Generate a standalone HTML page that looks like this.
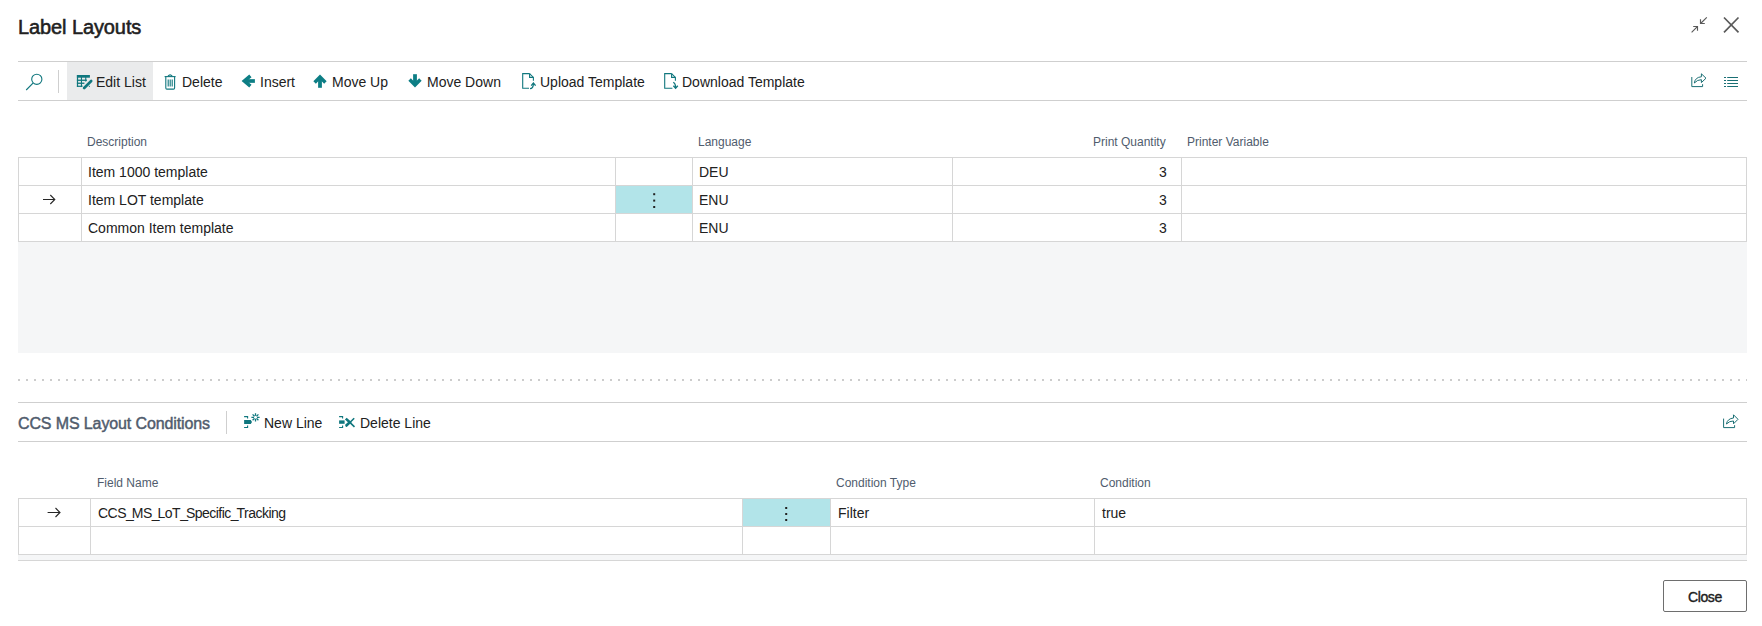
<!DOCTYPE html>
<html>
<head>
<meta charset="utf-8">
<style>
html,body{margin:0;padding:0;width:1762px;height:626px;overflow:hidden;background:#fff;}
body{font-family:"Liberation Sans",sans-serif;color:#212121;position:relative;}
.a{position:absolute;white-space:nowrap;line-height:normal;}
.hl{position:absolute;height:1px;background:#d0d0d0;}
.vl{position:absolute;width:1px;background:#d6d6d6;}
.t14{font-size:14px;}
.t12{font-size:12px;color:#505c6d;}
svg{position:absolute;overflow:visible;}
</style>
</head>
<body>

<!-- Title -->
<div class="a" style="left:18px;top:16px;font-size:20px;letter-spacing:-0.1px;-webkit-text-stroke:0.55px #212121;color:#212121">Label Layouts</div>

<!-- collapse icon -->
<svg style="left:0;top:0" width="1762" height="60" fill="none" stroke="#5a5a5a">
  <g stroke-width="1.15">
    <path d="M1691.6 32.4 L1697.6 26.4 M1693.2 26.5 H1697.5 V30.8"/>
    <path d="M1706.8 17.3 L1700.6 23.5 M1700.5 19.2 V23.5 H1704.8"/>
  </g>
  <path d="M1724 17.5 L1738.5 32.3 M1738.5 17.5 L1724 32.3" stroke-width="1.7"/>
</svg>

<!-- Toolbar -->
<div class="hl" style="left:18px;top:61px;width:1729px;background:#cfcfcf"></div>
<div class="hl" style="left:18px;top:100px;width:1729px;background:#cfcfcf"></div>
<div class="vl" style="left:58px;top:70px;height:23px;background:#cfcfcf"></div>
<div style="position:absolute;left:67px;top:62px;width:86px;height:38px;background:#eaebec"></div>

<div class="a t14" style="left:96px;top:74px">Edit List</div>
<div class="a t14" style="left:182px;top:74px">Delete</div>
<div class="a t14" style="left:260px;top:74px">Insert</div>
<div class="a t14" style="left:332px;top:74px">Move Up</div>
<div class="a t14" style="left:427px;top:74px">Move Down</div>
<div class="a t14" style="left:540px;top:74px">Upload Template</div>
<div class="a t14" style="left:682px;top:74px">Download Template</div>

<!-- Table 1 -->
<div class="a t12" style="left:87px;top:135px">Description</div>
<div class="a t12" style="left:698px;top:135px">Language</div>
<div class="a t12" style="left:1093px;top:135px">Print Quantity</div>
<div class="a t12" style="left:1187px;top:135px">Printer Variable</div>

<div style="position:absolute;left:18px;top:157px;width:1727px;height:83px;border:1px solid #d6d6d6;"></div>
<div class="hl" style="left:18px;top:185px;width:1729px;background:#d6d6d6"></div>
<div class="hl" style="left:18px;top:213px;width:1729px;background:#d6d6d6"></div>
<div class="vl" style="left:81px;top:157px;height:84px"></div>
<div class="vl" style="left:615px;top:157px;height:84px"></div>
<div class="vl" style="left:692px;top:157px;height:84px"></div>
<div class="vl" style="left:952px;top:157px;height:84px"></div>
<div class="vl" style="left:1181px;top:157px;height:84px"></div>
<div style="position:absolute;left:616px;top:186px;width:76px;height:27px;background:#b2e4e9"></div>
<div style="position:absolute;left:18px;top:242px;width:1729px;height:111px;background:#f5f6f7"></div>

<div class="a t14" style="left:88px;top:164px">Item 1000 template</div>
<div class="a t14" style="left:88px;top:192px">Item LOT template</div>
<div class="a t14" style="left:88px;top:220px">Common Item template</div>
<div class="a t14" style="left:699px;top:164px">DEU</div>
<div class="a t14" style="left:699px;top:192px">ENU</div>
<div class="a t14" style="left:699px;top:220px">ENU</div>
<div class="a t14" style="left:1159px;top:164px">3</div>
<div class="a t14" style="left:1159px;top:192px">3</div>
<div class="a t14" style="left:1159px;top:220px">3</div>

<!-- dotted line -->
<div style="position:absolute;left:18px;top:379px;width:1729px;height:2px;background-image:linear-gradient(to right,#cccccc 0,#cccccc 2px,transparent 2px);background-size:8px 2px;"></div>

<!-- Section 2 -->
<div class="hl" style="left:18px;top:402px;width:1729px;background:#cfcfcf"></div>
<div class="hl" style="left:18px;top:441px;width:1729px;background:#cfcfcf"></div>
<div class="a" style="left:18px;top:415px;font-size:16px;letter-spacing:-0.12px;-webkit-text-stroke:0.45px #505c6d;color:#505c6d">CCS MS Layout Conditions</div>
<div class="vl" style="left:226px;top:411px;height:23px;background:#cfcfcf"></div>
<div class="a t14" style="left:264px;top:415px">New Line</div>
<div class="a t14" style="left:360px;top:415px">Delete Line</div>

<!-- Table 2 -->
<div class="a t12" style="left:97px;top:476px">Field Name</div>
<div class="a t12" style="left:836px;top:476px">Condition Type</div>
<div class="a t12" style="left:1100px;top:476px">Condition</div>

<div style="position:absolute;left:18px;top:498px;width:1727px;height:55px;border:1px solid #d6d6d6;"></div>
<div class="hl" style="left:18px;top:526px;width:1729px;background:#d6d6d6"></div>
<div class="vl" style="left:90px;top:498px;height:56px"></div>
<div class="vl" style="left:742px;top:498px;height:56px"></div>
<div class="vl" style="left:830px;top:498px;height:56px"></div>
<div class="vl" style="left:1094px;top:498px;height:56px"></div>
<div style="position:absolute;left:743px;top:499px;width:87px;height:27px;background:#b2e4e9"></div>
<div style="position:absolute;left:18px;top:555px;width:1729px;height:5px;background:#f5f6f7"></div>
<div class="hl" style="left:18px;top:560px;width:1729px;background:#d6d6d6"></div>

<div class="a t14" style="left:98px;top:505px;letter-spacing:-0.52px">CCS<span style="letter-spacing:-2px">_</span>MS<span style="letter-spacing:-2px">_</span>LoT<span style="letter-spacing:-2px">_</span>Specific<span style="letter-spacing:-2px">_</span>Tracking</div>
<div class="a t14" style="left:838px;top:505px">Filter</div>
<div class="a t14" style="left:1102px;top:505px">true</div>

<!-- Close button -->
<div style="position:absolute;left:1663px;top:580px;width:82px;height:30px;border:1px solid #6e6e6e;border-radius:2px;"></div>
<div class="a" style="left:1688px;top:589px;font-size:14px;letter-spacing:-0.4px;-webkit-text-stroke:0.4px #212121">Close</div>


<!-- ICONS -->
<svg style="left:0;top:0" width="1762" height="626" fill="none">
 <g stroke="#10777e" fill="none">
  <!-- search -->
  <circle cx="36.8" cy="79.3" r="5.1" stroke-width="1.1"/>
  <path d="M33 83.2 L26.2 90" stroke-width="1.15"/>
 </g>
 <!-- edit list grid -->
 <g fill="#10777e">
  <rect x="76.9" y="75" width="13" height="2.7"/>
  <rect x="76.9" y="75" width="1.2" height="11.9"/>
  <rect x="76.9" y="79.6" width="10" height="1.3"/>
  <rect x="76.9" y="82.6" width="7.5" height="1.3"/>
  <rect x="76.9" y="85.7" width="6" height="1.2"/>
  <rect x="80.9" y="75" width="1.1" height="11.9"/>
  <rect x="85.2" y="75" width="1.1" height="6.5"/>
  <rect x="88.2" y="85.2" width="1.7" height="1.7"/>
 </g>
 <path d="M91.6 80.6 L83.6 88.6" stroke="#eaebec" stroke-width="4.4" stroke-linecap="round"/>
 <path d="M91.2 81 L84.2 88" stroke="#10777e" stroke-width="2.6" stroke-linecap="round"/>
 <path d="M84.4 86.2 L82.6 88.6 L85.6 87.2 Z" fill="#10777e"/>
 <!-- trash -->
 <g stroke="#10777e" stroke-width="1.1" fill="none">
  <path d="M164.6 76.6 H175.6"/>
  <path d="M168 76.2 Q170.1 73.6 172.2 76.2"/>
  <path d="M165.8 76.8 V88 Q165.8 89.1 166.9 89.1 H173.5 Q174.6 89.1 174.6 88 V76.8"/>
  <path d="M168.2 79.6 V86.4 M170.2 79.6 V86.4 M172.2 79.6 V86.4"/>
 </g>
 <!-- insert arrow (left) -->
 <g stroke="#0d7e85" fill="none" stroke-width="3.5" stroke-linejoin="miter" stroke-miterlimit="2">
  <path d="M250.4 75.8 L244.3 81 L250.4 86.2"/>
  <path d="M245.5 81 H254.9" stroke-width="3.7"/>
 </g>
 <!-- move up -->
 <g stroke="#0d7e85" fill="none" stroke-width="3.5" stroke-linejoin="miter" stroke-miterlimit="2">
  <path d="M314.6 82.6 L320 77.1 L325.4 82.6"/>
  <path d="M320 77.6 V87.8" stroke-width="3.8"/>
 </g>
 <!-- move down -->
 <g stroke="#0d7e85" fill="none" stroke-width="3.5" stroke-linejoin="miter" stroke-miterlimit="2">
  <path d="M409.6 79.4 L415 84.9 L420.4 79.4"/>
  <path d="M415 84.4 V74.2" stroke-width="3.8"/>
 </g>
 <!-- upload template -->
 <g stroke="#10777e" stroke-width="1.1" fill="none">
  <path d="M529.6 73.6 H522.7 V88.3 H529"/>
  <path d="M529.6 73.6 L533.4 77.4 V80.8"/>
  <path d="M529.6 73.6 V77.4 H533.4"/>
  <path d="M530 88.6 Q533.4 88.4 533.4 83.4" stroke-width="1.3"/>
  <path d="M531.2 85.6 L533.4 83 L535.6 85.6" stroke-width="1.3"/>
 </g>
 <!-- download template -->
 <g stroke="#10777e" stroke-width="1.1" fill="none">
  <path d="M671.6 73.6 H664.7 V88.3 H672.4"/>
  <path d="M671.6 73.6 L675.4 77.4 V80.8"/>
  <path d="M671.6 73.6 V77.4 H675.4"/>
  <path d="M673.2 82.4 Q675.6 83 675.6 88" stroke-width="1.3"/>
  <path d="M673.4 85.8 L675.6 88.3 L677.8 85.8" stroke-width="1.3"/>
 </g>
 <!-- share (toolbar) -->
 <g stroke="#1a6f74" stroke-width="1.0" fill="none">
  <path d="M1691.8 77 V86.6 H1702.6 V84.2"/>
  <path d="M1694.3 83 Q1695.2 77.2 1701.4 76.8 V73.8 L1706 78.2 L1701.4 82.6 V79.7 Q1697.4 79.6 1694.3 83 Z" stroke-linejoin="round"/>
 </g>
 <!-- list icon -->
 <g stroke="#1a6f74" stroke-width="1.1">
  <path d="M1724 77.5 H1726 M1727.2 77.5 H1738 M1724 80.5 H1726 M1727.2 80.5 H1738 M1724 83.5 H1726 M1727.2 83.5 H1738 M1724 86.5 H1726 M1727.2 86.5 H1738"/>
 </g>
 <!-- share (section 2) -->
 <g stroke="#1a6f74" stroke-width="1.0" fill="none">
  <path d="M1723.6 418.6 V427.6 H1734.6 V425.2"/>
  <path d="M1726.4 424 Q1727.4 418.6 1733.5 418 V414.8 L1738 419.3 L1733.5 423.8 V421 Q1729.6 420.8 1726.4 424 Z" stroke-linejoin="round"/>
 </g>
 <!-- new line -->
 <g fill="none" stroke="#10777e" stroke-width="1.1">
  <path d="M244.1 416.6 H247.6 V418.6 M244.1 427.5 H247.6 V425.4"/>
 </g>
 <path d="M244.1 420 H250.8 L252 421.9 L250.8 423.9 H244.1 Z" fill="#10777e"/>
 <g stroke="#10777e" stroke-width="1.3">
  <path d="M255.5 413.2 V421.4 M251.4 417.3 H259.6 M252.6 414.4 L258.4 420.2 M258.4 414.4 L252.6 420.2"/>
 </g>
 <circle cx="255.5" cy="417.3" r="1.5" fill="#fff"/>
 <!-- delete line -->
 <g fill="none" stroke="#10777e" stroke-width="1.1">
  <path d="M339.1 416.6 H342.6 V418.6 M339.1 427.5 H342.6 V425.4"/>
 </g>
 <path d="M339.1 420.4 H344.6 V423.8 H339.1 Z" fill="#10777e"/>
 <path d="M345.8 418.6 L349.8 422.3 L345.8 426" stroke="#10777e" stroke-width="2.6" fill="none"/>
 <path d="M354.2 418.2 L345.8 426.5 M349.8 422.3 L354.5 426.8" stroke="#10777e" stroke-width="1.6"/>
 <!-- row arrows -->
 <g stroke="#262626" stroke-width="1.1" fill="none">
  <path d="M43 199.5 H54.6 M50.3 195 L54.8 199.5 L50.3 204"/>
  <path d="M47.6 512.5 H59.8 M55.5 508 L60 512.5 L55.5 517"/>
 </g>
 <!-- dots -->
 <g fill="#222">
  <rect x="653.2" y="193.2" width="2" height="2"/>
  <rect x="653.2" y="199.6" width="2" height="2"/>
  <rect x="653.2" y="206" width="2" height="2"/>
  <rect x="785.2" y="507" width="2" height="2"/>
  <rect x="785.2" y="513" width="2" height="2"/>
  <rect x="785.2" y="519" width="2" height="2"/>
 </g>
</svg>

</body>
</html>
